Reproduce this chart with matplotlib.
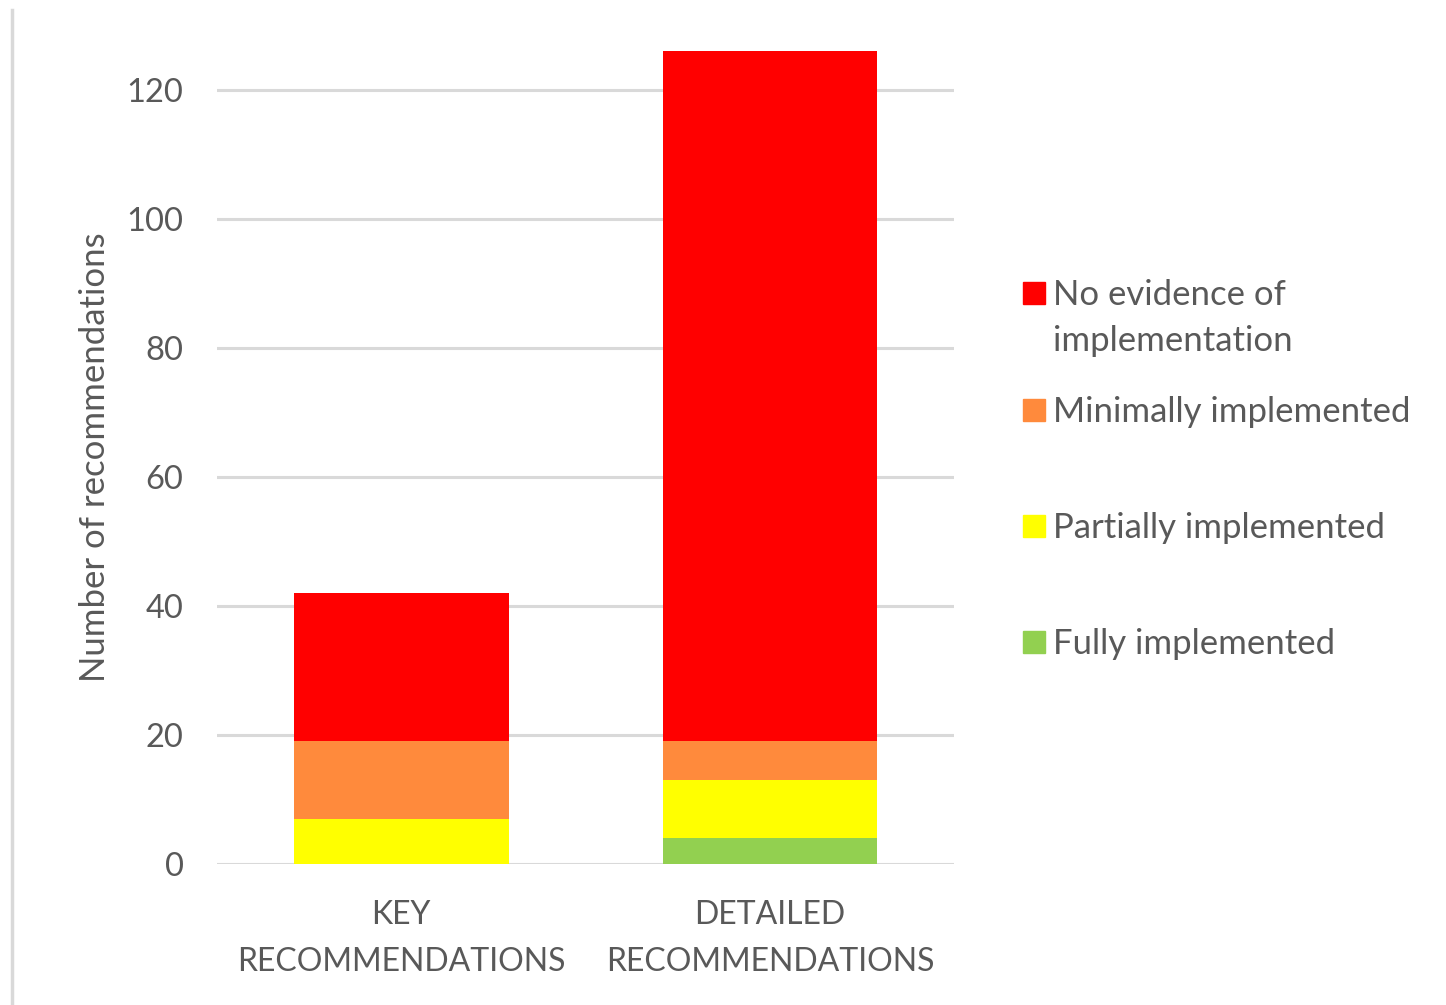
import matplotlib.pyplot as plt
from matplotlib.patches import Rectangle
from matplotlib.lines import Line2D

plt.rcParams['font.family'] = ['Lato', 'DejaVu Sans']

categories = ["KEY\nRECOMMENDATIONS", "DETAILED\nRECOMMENDATIONS"]
series_names = ["Fully implemented", "Partially implemented",
                "Minimally implemented", "No evidence of\nimplementation"]
fully = [0, 4]
partially = [7, 9]
minimally = [12, 6]
no_evidence = [23, 107]
colors = ["#92D050", "#FFFF00", "#FF8A3C", "#FF0000"]

TEXT = "#595959"
GRID = "#D9D9D9"


def main():
    fig = plt.figure(figsize=(14.46, 10.05), dpi=100)
    ax = fig.add_axes([0.150, 0.1403, 0.510, 0.8090])

    x = list(range(len(categories)))
    bottom = [0] * len(categories)
    for vals, col in zip([fully, partially, minimally, no_evidence], colors):
        ax.bar(x, vals, width=0.583, bottom=bottom, color=col, zorder=3)
        bottom = [b + v for b, v in zip(bottom, vals)]

    ax.set_xlim(-0.5, 1.5)
    ax.set_ylim(0, 126)
    ax.set_yticks(range(0, 121, 20))
    ax.yaxis.grid(True, color=GRID, linewidth=2.2, zorder=0)
    ax.set_axisbelow(True)
    for s in ax.spines.values():
        s.set_visible(False)
    ax.tick_params(length=0, colors=TEXT, labelsize=23.5)
    ax.tick_params(axis="y", pad=24)
    ax.tick_params(axis="x", pad=26)
    ax.set_xticks(x)
    ax.set_xticklabels(categories, linespacing=1.7, fontsize=23)
    ax.set_ylabel("Number of recommendations", color=TEXT, fontsize=25, labelpad=11)

    # legend drawn by hand to keep Excel-like spacing
    marker_y = [0.7085, 0.5920, 0.4766, 0.3612]
    order = [3, 2, 1, 0]
    for yy, i in zip(marker_y, order):
        fig.patches.append(Rectangle((0.7075, yy - 0.011), 0.0152, 0.022,
                                     transform=fig.transFigure, color=colors[i]))
        fig.text(0.728, yy + 0.014, series_names[i], color=TEXT, fontsize=25,
                 va="top", ha="left", linespacing=1.55)

    # outer frame line on the left
    fig.add_artist(Line2D([0.0085, 0.0085], [0.0, 0.99], transform=fig.transFigure,
                          color=GRID, linewidth=2.5))

    fig.savefig("out.png", dpi=100)


if __name__ == "__main__":
    main()
